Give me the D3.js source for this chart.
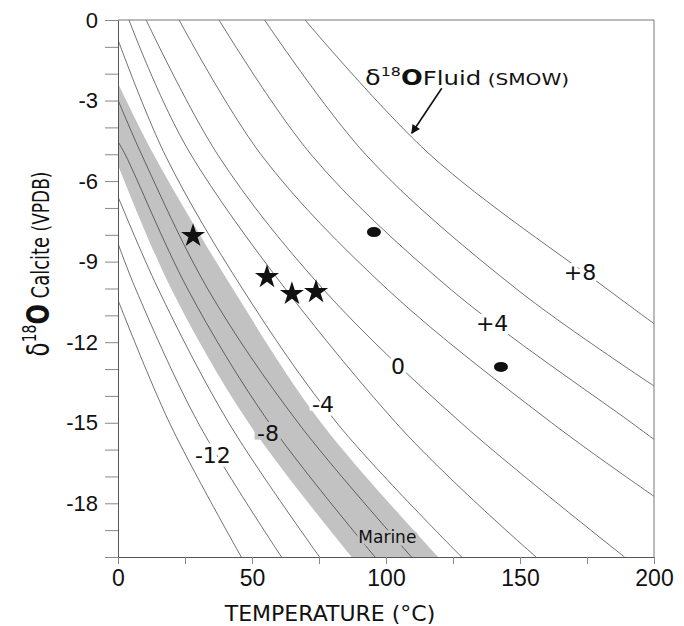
<!DOCTYPE html>
<html>
<head>
<meta charset="utf-8">
<script src="https://cdn.jsdelivr.net/npm/d3@7"></script>
<style>
  body { margin: 0; background: #fff; }
  svg { font-family: "DejaVu Sans", "Liberation Sans", sans-serif; }
</style>
</head>
<body>
<div id="chart"></div>
<script>
// fluid d18O isolines (SMOW), points as [temperature, d18O calcite]
var fluidValues = [-14, -12, -10, -8, -6, -4, -2, 0, 2, 4, 6, 8];
var fluidCurves = [
    [[0, -10.43], [19.2, -15.0], [46.0, -20]],
    [[0, -8.32], [6.6, -10.02], [29.9, -15.0], [61.0, -20]],
    [[0, -6.58], [15.0, -10.02], [41.3, -15.0], [75.2, -20]],
    [[0, -4.53], [2.8, -5.03], [26.0, -10.02], [56.4, -15.0], [95.9, -20]],
    [[0, -2.98], [8.9, -5.03], [33.5, -10.02], [67.2, -15.0], [109.5, -20]],
    [[0, -0.74], [17.6, -5.03], [46.5, -10.02], [81.6, -15.0], [128.2, -20]],
    [[4.1, 0], [27.3, -5.03], [103.7, -15.0], [156, -20]],
    [[10.5, 0], [37.3, -5.03], [76.5, -10.02], [128, -15.0], [189, -20]],
    [[22.8, 0], [53.5, -5.03], [100.4, -10.02], [161.8, -15.0], [200, -17.74]],
    [[37.7, 0], [72.2, -5.03], [124, -10.02], [191.6, -15.0], [200, -15.62]],
    [[54.7, 0], [92.6, -5.03], [148.7, -10.02], [200, -13.63]],
    [[69.8, 0], [116.6, -5.03], [182.5, -10.02], [200, -11.31]]
];

// marine band edges
var marineUpper = [[0, -2.36], [13.4, -5.03], [42.9, -10.02], [75.8, -15.0], [119.5, -20]];
var marineLower = [[0, -5.4], [19.9, -10.02], [48.7, -15.0], [87.2, -20]];

// isoline labels [text, temperature, d18O]
var curveLabels = [
    ["-12", 35.4, -16.2],
    ["-8", 56.0, -15.4],
    ["-4", 76.5, -14.3],
    ["0", 104.5, -12.9],
    ["+4", 139.6, -11.3],
    ["+8", 172.4, -9.4]
];

// samples
var starTemp = [28, 55.6, 64.9, 73.9];
var starD18O = [-8.04, -9.57, -10.2, -10.13];
var dotTemp = [95.5, 142.9];
var dotD18O = [-7.9, -12.92];

var xTicks = [0, 25, 50, 75, 100, 125, 150, 175, 200];
var xLabels = [0, 50, 100, 150, 200];
var yTicks = d3.range(0, -21, -1);
var yLabels = [0, -3, -6, -9, -12, -15, -18];

function init() {
    var W = 684, H = 626;
    var margin = {top: 20, right: 30, bottom: 69, left: 118},
        w = W - margin.left - margin.right,
        h = H - margin.top - margin.bottom;

    var xScale = d3.scaleLinear().domain([0, 200]).range([0, w]);
    var yScale = d3.scaleLinear().domain([0, -20]).range([0, h]);

    var svg = d3.select("#chart")
        .append("svg")
        .attr("width", W)
        .attr("height", H);

    var defs = svg.append("defs");
    defs.append("clipPath").attr("id", "plot")
        .append("rect").attr("width", w).attr("height", h);
    defs.append("marker")
        .attr("id", "head")
        .attr("viewBox", "0 0 10 10")
        .attr("refX", 9).attr("refY", 5)
        .attr("markerWidth", 10).attr("markerHeight", 9)
        .attr("markerUnits", "userSpaceOnUse")
        .attr("orient", "auto")
        .append("path")
        .attr("d", "M0,0 L10,5 L0,10 Z")
        .attr("fill", "#111");

    var g = svg.append("g")
        .attr("transform", `translate(${margin.left}, ${margin.top})`);

    var plot = g.append("g").attr("clip-path", "url(#plot)");

    var line = d3.line()
        .x(d => xScale(d[0]))
        .y(d => yScale(d[1]))
        .curve(d3.curveCatmullRom.alpha(0.5));

    // marine band
    var bandPath = line(marineUpper) + "L" +
        line(marineLower.slice().reverse()).slice(1) + "Z";
    plot.append("path")
        .attr("d", bandPath)
        .attr("fill", "#c2c2c2");

    plot.selectAll(".iso")
        .data(fluidCurves)
        .enter()
        .append("path")
        .attr("class", "iso")
        .attr("d", line)
        .attr("fill", "none")
        .attr("stroke", "#333")
        .attr("stroke-width", 0.7);

    // frame
    g.append("path")
        .attr("d", `M0,0 H${w} V${h}`)
        .attr("fill", "none")
        .attr("stroke", "#777")
        .attr("stroke-width", 1);

    // axes
    var yAxis = g.append("g")
        .call(d3.axisLeft(yScale)
            .tickValues(yTicks)
            .tickSize(13)
            .tickSizeOuter(0)
            .tickPadding(7)
            .tickFormat(d => yLabels.indexOf(d) >= 0 ? String(d) : ""));

    var xAxis = g.append("g")
        .attr("transform", `translate(0, ${h})`)
        .call(d3.axisBottom(xScale)
            .tickValues(xTicks)
            .tickSize(7)
            .tickSizeOuter(0)
            .tickPadding(6)
            .tickFormat(d => xLabels.indexOf(d) >= 0 ? d : ""));

    [yAxis, xAxis].forEach(function(a) {
        a.select(".domain").attr("stroke", "#555");
        a.selectAll(".tick line").attr("stroke", "#888");
        a.selectAll(".tick text")
            .attr("fill", "#111")
            .style("font-size", "22px");
    });
    xAxis.selectAll(".tick text").style("font-size", "23px");

    // isoline labels
    g.selectAll(".clab")
        .data(curveLabels)
        .enter()
        .append("text")
        .attr("class", "clab")
        .attr("x", d => xScale(d[1]))
        .attr("y", d => yScale(d[2]))
        .attr("dy", "0.36em")
        .attr("text-anchor", "middle")
        .style("font-size", "22px")
        .attr("fill", "#111")
        .attr("stroke", d => d[0] === "-8" ? "#c2c2c2" : "#fff")
        .attr("stroke-width", 7)
        .attr("paint-order", "stroke")
        .text(d => d[0]);

    g.append("text")
        .attr("x", xScale(100.5))
        .attr("y", yScale(-19.48))
        .attr("text-anchor", "middle")
        .style("font-size", "17px")
        .attr("fill", "#111")
        .attr("stroke", "#c2c2c2")
        .attr("stroke-width", 5)
        .attr("paint-order", "stroke")
        .text("Marine");

    // samples
    g.selectAll(".star")
        .data(starTemp)
        .enter()
        .append("path")
        .attr("class", "star")
        .attr("transform", (d, i) => `translate(${xScale(d)}, ${yScale(starD18O[i])})`)
        .attr("d", d3.symbol().type(d3.symbolStar).size(180))
        .attr("fill", "#111");

    g.selectAll(".dot")
        .data(dotTemp)
        .enter()
        .append("ellipse")
        .attr("class", "dot")
        .attr("cx", d => xScale(d))
        .attr("cy", (d, i) => yScale(dotD18O[i]))
        .attr("rx", 7)
        .attr("ry", 5)
        .attr("fill", "#111");

    // fluid annotation (the source lettering is wide, hence the x stretch)
    var ft = g.append("text")
        .attr("transform", `translate(${xScale(92.2)}, ${yScale(-2.42)}) scale(1.22, 1)`)
        .attr("fill", "#111");
    ft.append("tspan").style("font-size", "21px").text("δ");
    ft.append("tspan").style("font-size", "13px").attr("dy", -9).text("18");
    ft.append("tspan").style("font-size", "21px").style("font-weight", "bold").attr("dy", 9).text("O");
    ft.append("tspan").style("font-size", "20px").text("Fluid");
    ft.append("tspan").style("font-size", "16.5px").text(" (SMOW)");

    g.append("line")
        .attr("x1", xScale(120.8)).attr("y1", yScale(-2.54))
        .attr("x2", xScale(109.6)).attr("y2", yScale(-4.22))
        .attr("stroke", "#111")
        .attr("stroke-width", 1.6)
        .attr("marker-end", "url(#head)");

    // axis titles
    svg.append("text")
        .attr("x", margin.left + w / 2 - 56)
        .attr("y", H - 5)
        .attr("text-anchor", "middle")
        .style("font-size", "22px")
        .attr("fill", "#111")
        .text("TEMPERATURE (°C)");

    var yt = svg.append("text")
        .attr("transform", "translate(49, 264) scale(1.35, 1) rotate(-90)")
        .attr("text-anchor", "middle")
        .attr("fill", "#111");
    yt.append("tspan").style("font-size", "23px").text("δ");
    yt.append("tspan").style("font-size", "14px").attr("dy", -10).text("18");
    yt.append("tspan").style("font-size", "24px").style("font-weight", "bold").attr("dy", 10).text("O");
    yt.append("tspan").style("font-size", "18px").text(" Calcite");
    yt.append("tspan").style("font-size", "17px").text(" (VPDB)");
}

window.onload = init;
</script>
</body>
</html>
